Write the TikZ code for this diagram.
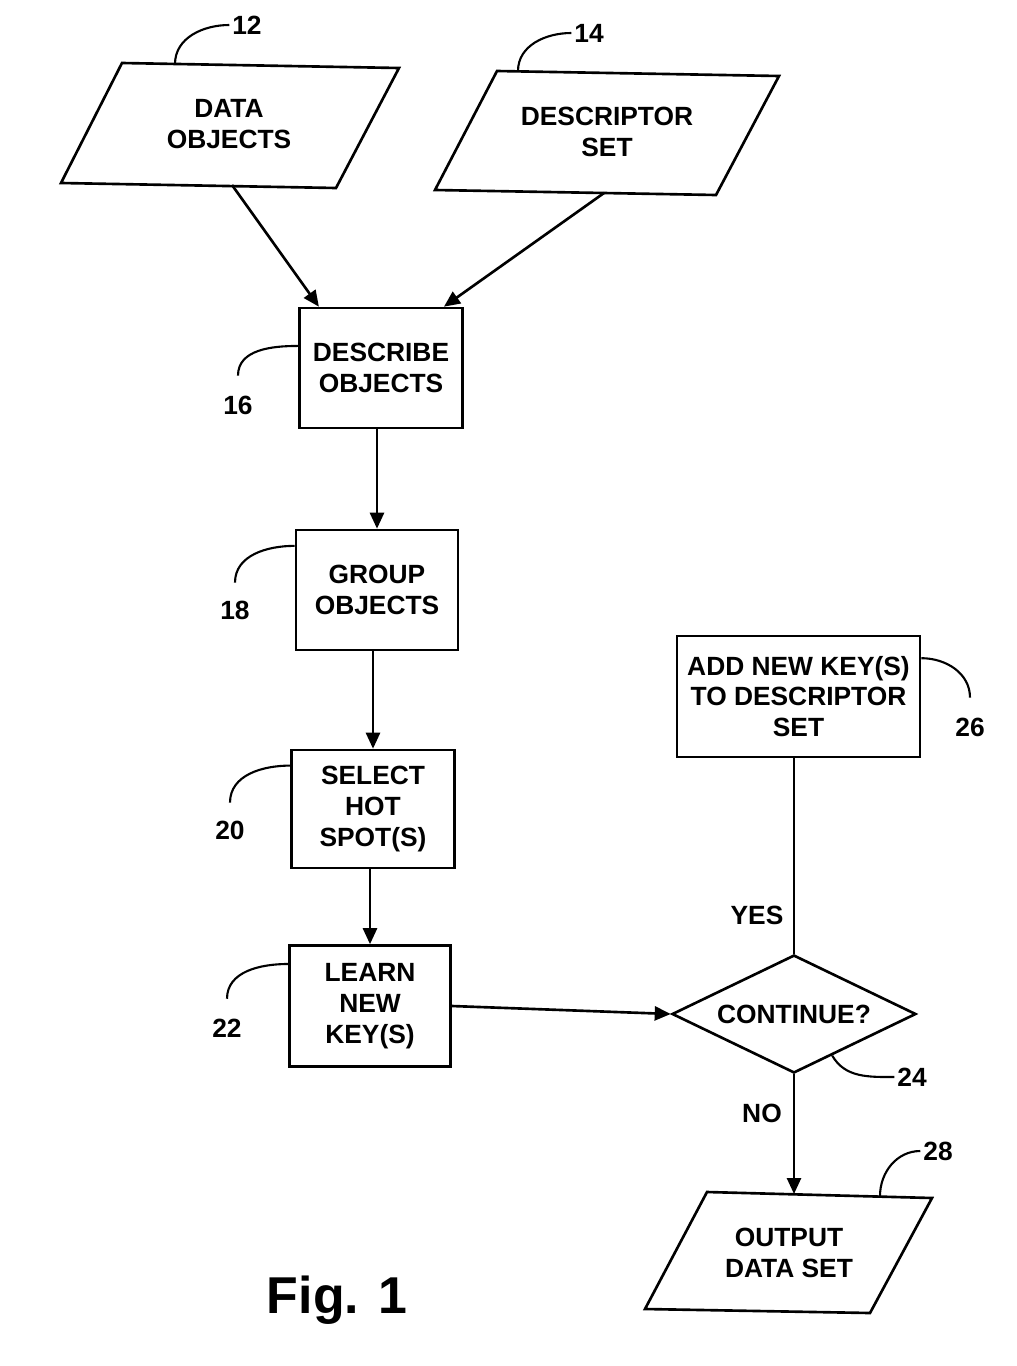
\documentclass[tikz,border=0pt]{standalone}
\usepackage{fontspec}
\setmainfont{Liberation Sans}
\usetikzlibrary{shapes.geometric,arrows.meta,calc}
\begin{document}
\begin{tikzpicture}[x=0.02cm,y=-0.02cm,
  line width=1.5pt,
  txt/.style={font=\fontsize{15}{17.6}\selectfont\bfseries, align=center, inner sep=0pt},
  procbox/.style={draw, rectangle, txt},
  decision/.style={draw, diamond, aspect=2.07, txt},
  reflabel/.style={font=\fontsize{15}{17.6}\selectfont\bfseries, inner sep=1pt},
  flow/.style={-{Triangle[length=0.32cm,width=0.28cm]}},
  leader/.style={line width=1.2pt}]
\useasboundingbox (0,0) rectangle (1017,1366);

% parallelograms (data)
\draw (122,63) -- (399,68) -- (336,188) -- (61,183) -- cycle;
\node[txt] (p12) at (229,124) {DATA\\OBJECTS};
\draw (497,71) -- (779,76) -- (716,195) -- (435,190) -- cycle;
\node[txt] (p14) at (607,132) {DESCRIPTOR\\SET};
\draw (707,1192) -- (932,1198) -- (870,1313) -- (645,1309) -- cycle;
\node[txt] (p28) at (789,1253) {OUTPUT\\DATA SET};
\coordinate (p12s) at (232,185);
\coordinate (p14s) at (604,193);
\coordinate (p28n) at (794,1194);
\coordinate (p12t) at (175,64);
\coordinate (p14t) at (518,71);
\coordinate (p28t) at (880,1196);

% process boxes
\node[procbox, minimum width=3.26cm, minimum height=2.4cm] (b16) at (381,368) {DESCRIBE\\OBJECTS};
\node[procbox, minimum width=3.24cm, minimum height=2.4cm] (b18) at (377,590) {GROUP\\OBJECTS};
\node[procbox, minimum width=3.26cm, minimum height=2.36cm] (b20) at (373,809) {SELECT\\HOT\\SPOT(S)};
\node[procbox, minimum width=3.22cm, minimum height=2.42cm] (b22) at (370,1006) {LEARN\\NEW\\KEY(S)};
\node[procbox, minimum width=4.86cm, minimum height=2.42cm] (b26) at (798.5,696.5) {ADD NEW KEY(S)\\TO DESCRIPTOR\\SET};
\node[decision, minimum width=4.88cm, minimum height=2.36cm] (d24) at (794,1014) {CONTINUE?};

% connectors
\draw[flow] (p12s) -- ($(b16.north west)!0.125!(b16.north east)$);
\draw[flow] (p14s) -- ($(b16.north west)!0.88!(b16.north east)$);
\draw[flow] (b16.south -| b18.north) -- (b18.north);
\draw[flow] (b18.south -| b20.north) -- (b20.north);
\draw[flow] (b20.south -| b22.north) -- (b22.north);
\draw[flow] (b22.east) -- (d24.west);
\draw (d24.north) -- (d24.north |- b26.south);
\draw[flow] (d24.south) -- (p28n);
\node[txt] (yes) at (757,915) {YES};
\node[txt] (no) at (762,1113) {NO};

% reference numerals
\node[reflabel] (l12) at (247,25) {12};
\node[reflabel] (l14) at (589,33) {14};
\node[reflabel] (l16) at (238,405) {16};
\node[reflabel] (l18) at (235,610) {18};
\node[reflabel] (l20) at (230,830) {20};
\node[reflabel] (l22) at (227,1028) {22};
\node[reflabel] (l24) at (912,1077) {24};
\node[reflabel] (l26) at (970,727) {26};
\node[reflabel] (l28) at (938,1151) {28};

\draw[leader] (p12t) to[out=90,in=180] (l12.west);
\draw[leader] (p14t) to[out=90,in=180] (l14.west);
\draw[leader] ($(b16.north west)!0.32!(b16.south west)$) to[out=180,in=90] ([yshift=0.34cm]l16.north);
\draw[leader] ($(b18.north west)!0.14!(b18.south west)$) to[out=180,in=90] ([yshift=0.3cm]l18.north);
\draw[leader] ($(b20.north west)!0.14!(b20.south west)$) to[out=180,in=90] ([yshift=0.3cm]l20.north);
\draw[leader] ($(b22.north west)!0.16!(b22.south west)$) to[out=180,in=90] ([yshift=0.34cm]l22.north);
\draw[leader] ($(b26.north east)!0.19!(b26.south east)$) to[out=0,in=90] ([yshift=0.34cm]l26.north);
\draw[leader] ($(d24.south)!0.31!(d24.east)$) to[out=-60,in=180] (l24.west);
\draw[leader] (p28t) to[out=90,in=180] (l28.west);

\node[font=\fontsize{29.5}{34}\selectfont\bfseries, inner sep=0pt] (fig) at (337,1300) {Fig. 1};
\end{tikzpicture}
\end{document}
